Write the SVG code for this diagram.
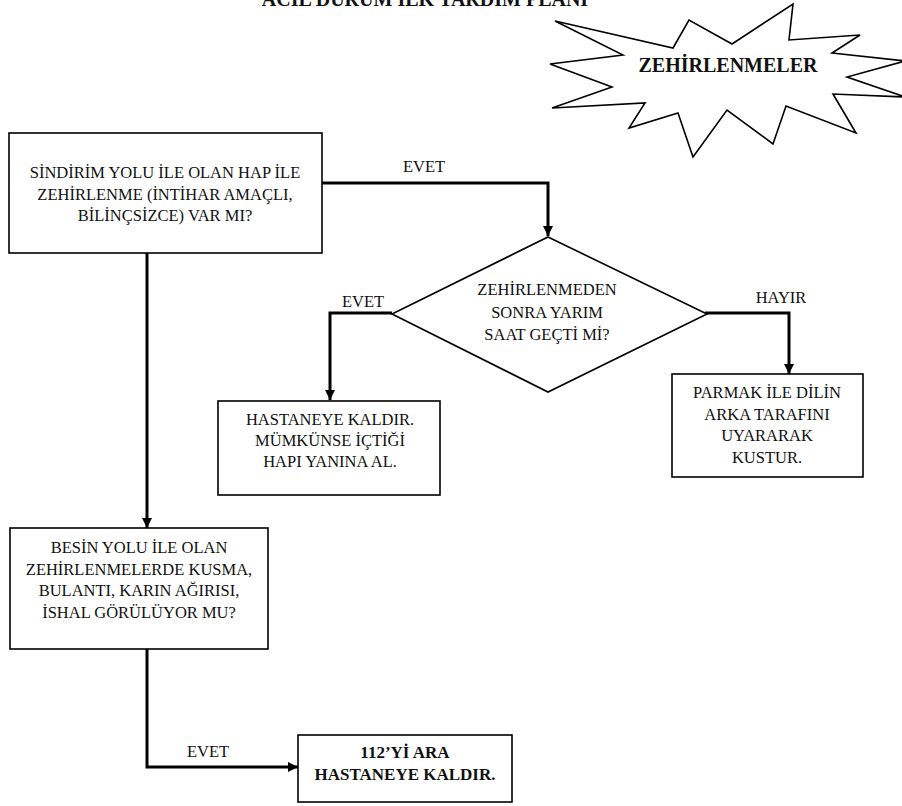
<svg xmlns="http://www.w3.org/2000/svg" width="902" height="806" viewBox="0 0 902 806">
<defs>
<marker id="arr" markerUnits="userSpaceOnUse" markerWidth="10" markerHeight="10" refX="10" refY="5" orient="auto">
<path d="M0,0 L10,5 L0,10 z" fill="#000"/>
</marker>
<style>
.t{font-family:'Liberation Serif','Times New Roman',Times,'DejaVu Serif',serif;font-size:16.5px;fill:#111;text-anchor:middle}
.b{font-weight:bold}
.box{fill:#fff;stroke:#000;stroke-width:1.6}
.conn{fill:none;stroke:#000;stroke-width:3;marker-end:url(#arr)}
</style>
</defs>
<rect width="902" height="806" fill="#fff"/>
<text class="t b" x="425" y="6" font-family="Liberation Serif, serif" style="font-size:20px">ACİL DURUM İLK YARDIM PLANI</text>
<g id="zehirlenmeler">
<polygon class="box" stroke-width="1.3" points="555,21 673,48 689,20 732,44 793,4 789,40 860,35 832,53 905,61 847,77 905,97 833,94 856,133 786,106 773,144 727,110 693,157 678,113 629,128 645,103 552,108 612,87 550,64 623,55"/>
<text class="t b" x="728" y="72" style="font-size:20px">ZEHİRLENMELER</text>
</g>
<g id="connectors">
<path class="conn" d="M322,183 H548 V236"/>
<path class="conn" d="M392,313 H330 V400"/>
<path class="conn" d="M705,313 H789 V374"/>
<path class="conn" d="M147,253 V528"/>
<path class="conn" d="M147,649 V767 H298"/>
<text class="t" x="424" y="172">EVET</text>
<text class="t" x="363" y="307">EVET</text>
<text class="t" x="781" y="303">HAYIR</text>
<text class="t" x="208" y="757">EVET</text>
</g>
<g id="sindirim">
<rect class="box" x="9" y="133" width="313" height="120"/>
<text class="t" x="165" y="178">SİNDİRİM YOLU İLE OLAN HAP İLE</text>
<text class="t" x="165" y="200">ZEHİRLENME (İNTİHAR AMAÇLI,</text>
<text class="t" x="165" y="221">BİLİNÇSİZCE) VAR MI?</text>
</g>
<g id="yarim-saat">
<polygon class="box" stroke-width="1.2" points="548,237 707,314 548,392 392,314"/>
<text class="t" x="547" y="295">ZEHİRLENMEDEN</text>
<text class="t" x="547" y="318">SONRA YARIM</text>
<text class="t" x="547" y="340">SAAT GEÇTİ Mİ?</text>
</g>
<g id="hastaneye">
<rect class="box" x="218" y="401" width="222" height="94"/>
<text class="t" x="330" y="425">HASTANEYE KALDIR.</text>
<text class="t" x="330" y="446">MÜMKÜNSE İÇTİĞİ</text>
<text class="t" x="330" y="467">HAPI YANINA AL.</text>
</g>
<g id="parmak">
<rect class="box" x="672" y="374" width="191" height="103"/>
<text class="t" x="767" y="398">PARMAK İLE DİLİN</text>
<text class="t" x="767" y="420">ARKA TARAFINI</text>
<text class="t" x="767" y="441">UYARARAK</text>
<text class="t" x="767" y="463">KUSTUR.</text>
</g>
<g id="besin">
<rect class="box" x="10" y="528" width="258" height="121"/>
<text class="t" x="139" y="553">BESİN YOLU İLE OLAN</text>
<text class="t" x="139" y="575">ZEHİRLENMELERDE KUSMA,</text>
<text class="t" x="139" y="596">BULANTI, KARIN AĞIRISI,</text>
<text class="t" x="139" y="618">İSHAL GÖRÜLÜYOR MU?</text>
</g>
<g id="ara112">
<rect class="box" x="298" y="735" width="214" height="67" stroke-width="2"/>
<text class="t b" x="405" y="758" style="font-size:17px">112’Yİ ARA</text>
<text class="t b" x="405" y="780" style="font-size:17px">HASTANEYE KALDIR.</text>
</g>
</svg>
